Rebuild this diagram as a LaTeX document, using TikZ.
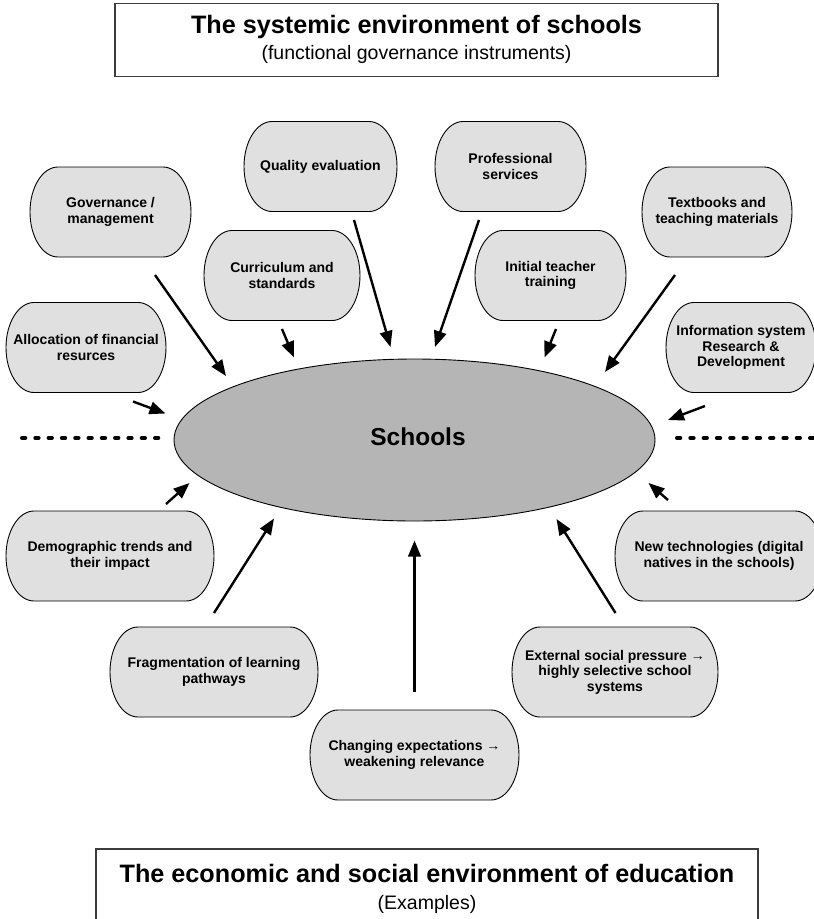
\documentclass[tikz,border=0pt]{standalone}
\usepackage{fontspec}
\setmainfont{Liberation Sans}
\usetikzlibrary{shapes.geometric,arrows.meta}
\definecolor{boxgray}{RGB}{224,224,224}
\definecolor{schgray}{RGB}{180,181,180}
\definecolor{framegray}{RGB}{60,60,60}
% pill-shaped box: name, x, y, width, text
\newcommand\pillbox[5]{%
  \coordinate (#1c) at (#2,#3);
  \draw[pillshape] ([shift={(-#4/2+28,-45)}]#1c) -- ([shift={(#4/2-28,-45)}]#1c)
    arc[start angle=90, end angle=-90, x radius=28pt, y radius=45pt]
    -- ([shift={(-#4/2+28,45)}]#1c)
    arc[start angle=270, end angle=90, x radius=28pt, y radius=45pt] -- cycle;
  \node[boxtext, minimum width=#4pt] (#1) at (#1c) {#5};}
\begin{document}
\begin{tikzpicture}[x=1pt,y=-1pt,
  pillshape/.style={draw=black, line width=0.9pt, fill=boxgray},
  boxtext/.style={rectangle, minimum height=90pt, inner sep=0pt, align=center, font=\bfseries\fontsize{14}{15.5}\selectfont},
  arr/.style={line width=2.4pt, -{Triangle[length=16pt,width=12.5pt]}},
  sepline/.style={line width=4pt, line cap=round, dash pattern=on 3.3pt off 10pt},
  frametitle/.style={font=\bfseries\fontsize{25.2}{28}\selectfont, anchor=base, inner sep=0pt},
  framesub/.style={font=\fontsize{19.5}{22}\selectfont, anchor=base, inner sep=0pt},
  framebox/.style={draw=framegray, line width=1.1pt, inner sep=0pt}]
\useasboundingbox (0,0) rectangle (814,919);
\clip (0,0) rectangle (814,919);
% frames
\node[framebox, minimum width=603pt, minimum height=73.5pt] (top) at (416.5,40) {};
\node[frametitle] (t1) at (416.5,33.3) {The systemic environment of schools};
\node[framesub] (t2) at (416.5,59.5) {(functional governance instruments)};
\node[framebox, minimum width=662pt, minimum height=90pt] (bot) at (427,894) {};
\node[frametitle] (b1) at (427,882) {The economic and social environment of education};
\node[framesub] (b2) at (427,909) {(Examples)};
% separator lines
\coordinate (dl1) at (22,438); \coordinate (dl2) at (159,438);
\coordinate (dr1) at (677,438); \coordinate (dr2) at (820,438);
\draw[sepline] (dl1) -- (dl2);
\draw[sepline] (dr1) -- (dr2);
% schools
\node[ellipse, draw=black, line width=0.9pt, fill=schgray, minimum width=481pt, minimum height=162pt, inner sep=0pt] (sch) at (414.5,440) {};
\node[font=\bfseries\fontsize{24.5}{28}\selectfont, inner sep=0pt] (schlbl) at (418,436.5) {Schools};
% boxes
\pillbox{gov}{110.5}{212}{161}{Governance /\\management}
\pillbox{qual}{320.5}{166.5}{153}{Quality evaluation}
\pillbox{prof}{510.5}{166.5}{151}{Professional\\services}
\pillbox{tb}{717}{212}{150}{Textbooks and\\teaching materials}
\pillbox{cur}{282}{275.5}{156}{Curriculum and\\standards}
\pillbox{init}{550.5}{275.5}{151}{Initial teacher\\training}
\pillbox{alloc}{86}{347.5}{160}{Allocation of financial\\resurces}
\pillbox{info}{741}{347.5}{150}{Information system\\Research \&\\Development}
\pillbox{demo}{110}{556}{208}{Demographic trends and\\their impact}
\pillbox{newt}{719}{556}{208}{New technologies (digital\\natives in the schools)}
\pillbox{frag}{214}{672}{208}{Fragmentation of learning\\pathways}
\pillbox{ext}{615}{672}{206}{External social pressure →\\highly selective school\\systems}
\pillbox{chg}{414.5}{755}{209}{Changing expectations →\\weakening relevance}
% arrow ends
\coordinate (govS) at (155,275);   \coordinate (govE) at (226,376);
\coordinate (curS) at (282,329);   \coordinate (curE) at (294,357.5);
\coordinate (qualS) at (354,220);  \coordinate (qualE) at (390.5,347);
\coordinate (profS) at (479,220);  \coordinate (profE) at (435,347);
\coordinate (initS) at (556,329);  \coordinate (initE) at (544.5,357.5);
\coordinate (tbS) at (675,275);    \coordinate (tbE) at (605,372);
\coordinate (allocS) at (133,401.5); \coordinate (allocE) at (165.5,413.5);
\coordinate (infoS) at (705,406);  \coordinate (infoE) at (668,420);
\coordinate (demoS) at (166,504);  \coordinate (demoE) at (189.5,483);
\coordinate (newtS) at (668,500);  \coordinate (newtE) at (648.5,483);
\coordinate (fragS) at (214,613);  \coordinate (fragE) at (274,518.5);
\coordinate (extS) at (615.5,613); \coordinate (extE) at (556.5,519);
\coordinate (chgS) at (414.5,692); \coordinate (chgE) at (414.5,540.5);
\foreach \a in {gov,cur,qual,prof,init,tb,alloc,info,demo,newt,frag,ext,chg}
  \draw[arr] (\a S) -- (\a E);
\end{tikzpicture}
\end{document}
